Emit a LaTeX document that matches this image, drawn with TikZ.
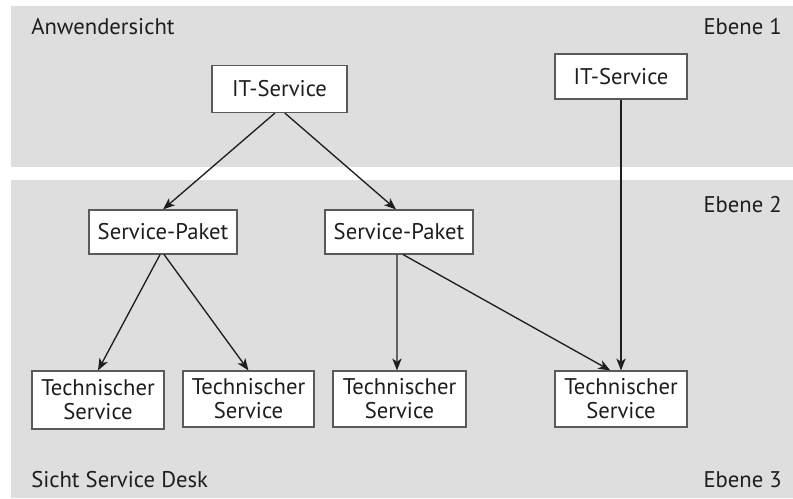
\documentclass[tikz,border=0pt]{standalone}
\usepackage{fontspec}
\setmainfont{PT Sans}
\usetikzlibrary{arrows.meta}
\definecolor{band}{HTML}{DEDEDE}
\definecolor{edge}{HTML}{5A5A5A}
\definecolor{ink}{HTML}{1E1E1E}
\begin{document}
\begin{tikzpicture}[x=0.75pt,y=-0.75pt,
  every node/.style={font=\fontsize{17}{18}\selectfont, text=ink},
  box/.style={draw=edge, line width=0.8pt, fill=white, inner sep=0pt, align=center},
  label/.style={inner sep=0pt},
  link/.style={draw=ink, line width=1pt, -{Stealth[length=9pt,width=7pt,inset=2.5pt]}}]
  \useasboundingbox (0,0) rectangle (793,499);
  % view bands
  \fill[band] (11,6) rectangle (793,167);
  \fill[band] (11,180) rectangle (793,498);
  % band labels
  \node[label, anchor=base west] (u)  at (31,35)  {Anwendersicht};
  \node[label, anchor=base east] (e1) at (782,35) {Ebene 1};
  \node[label, anchor=base east] (e2) at (782,213) {Ebene 2};
  \node[label, anchor=base west] (sd) at (31,487) {Sicht Service Desk};
  \node[label, anchor=base east] (e3) at (782,487) {Ebene 3};
  % level 1
  \node[box, minimum width=135*0.75pt, minimum height=47*0.75pt] (it1) at (279.5,89) {IT-Service};
  \node[box, minimum width=132*0.75pt, minimum height=45*0.75pt] (it2) at (621,76.5) {IT-Service};
  % level 2
  \node[box, minimum width=148*0.75pt, minimum height=44*0.75pt] (sp1) at (163,232) {Service-Paket};
  \node[box, minimum width=148*0.75pt, minimum height=44*0.75pt] (sp2) at (399,232) {Service-Paket};
  % level 3
  \node[box, minimum width=132*0.75pt, minimum height=58*0.75pt] (ts1) at (98,400) {Technischer\\Service};
  \node[box, minimum width=131*0.75pt, minimum height=56*0.75pt] (ts2) at (248.5,399) {Technischer\\Service};
  \node[box, minimum width=133*0.75pt, minimum height=56*0.75pt] (ts3) at (399.5,399) {Technischer\\Service};
  \node[box, minimum width=132*0.75pt, minimum height=56*0.75pt] (ts4) at (621,399) {Technischer\\Service};
  % relations
  \draw[link] ([xshift=-3.4pt]it1.south) -- (sp1.north);
  \draw[link] ([xshift=4pt]it1.south) -- ([xshift=-2.2pt]sp2.north);
  \draw[link] ([xshift=-2.2pt]sp1.south) -- (ts1.north);
  \draw[link] ([xshift=0.8pt]sp1.south) -- (ts2.north);
  \draw[link] ([xshift=-1.5pt]sp2.south) -- ([xshift=-1.9pt]ts3.north);
  \draw[link] ([xshift=3pt]sp2.south) -- ([xshift=-8pt]ts4.north);
  \draw[link] (it2.south) -- (ts4.north);
\end{tikzpicture}
\end{document}
